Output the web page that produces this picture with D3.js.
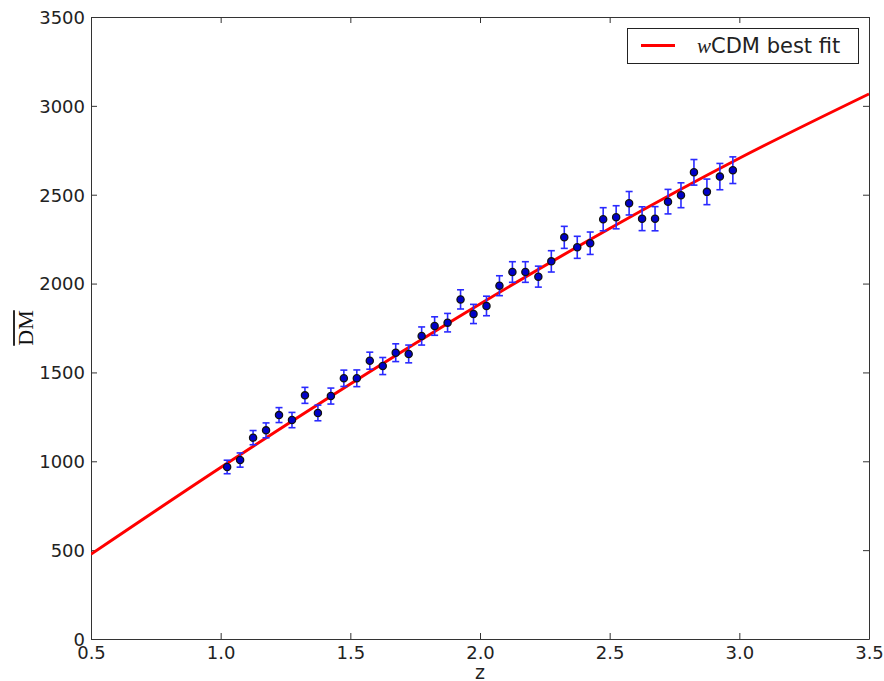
<!DOCTYPE html>
<html>
<head>
<meta charset="utf-8">
<script src="https://cdn.jsdelivr.net/npm/d3@7"></script>
<style>
  body { margin: 0; background: #fff; }
  svg { display: block; }
  .axis text { font-family: "DejaVu Sans", sans-serif; font-size: 18px; fill: #222; }
  .axis path, .axis line { stroke: #333; }
</style>
</head>
<body>
<script>
// measured redshift bins
var zVals = [1.025, 1.075, 1.125, 1.175, 1.225, 1.275, 1.325, 1.375, 1.425, 1.475,
  1.525, 1.575, 1.625, 1.675, 1.725, 1.775, 1.825, 1.875, 1.925, 1.975,
  2.025, 2.075, 2.125, 2.175, 2.225, 2.275, 2.325, 2.375, 2.425, 2.475,
  2.525, 2.575, 2.625, 2.675, 2.725, 2.775, 2.825, 2.875, 2.925, 2.975];
var dmVals = [968, 1007, 1133, 1174, 1260, 1232, 1371, 1272, 1367, 1467,
  1467, 1566, 1536, 1611, 1604, 1705, 1761, 1780, 1911, 1829,
  1874, 1988, 2065, 2065, 2039, 2125, 2260, 2204, 2227, 2362,
  2373, 2452, 2365, 2365, 2461, 2497, 2626, 2516, 2602, 2638];
var dmErr = [38, 40, 40, 42, 42, 43, 45, 44, 45, 46,
  47, 48, 48, 50, 50, 51, 52, 52, 54, 54,
  55, 56, 58, 58, 59, 60, 62, 62, 63, 65,
  65, 66, 67, 68, 69, 70, 72, 72, 74, 75];

// wCDM best fit curve
var fitZ = [0.5, 1.0, 1.5, 2.0, 2.5, 3.0, 3.5];
var fitDM = [477, 965, 1435, 1885, 2310, 2705, 3067];

var xTicks = [0.5, 1.0, 1.5, 2.0, 2.5, 3.0, 3.5];
var yTicks = [0, 500, 1000, 1500, 2000, 2500, 3000, 3500];

var width = 884, height = 681;
var margin = {top: 17, right: 15, bottom: 42, left: 91};
var w = width - margin.left - margin.right,
  h = height - margin.top - margin.bottom;

var svg = d3.select("body").append("svg")
  .attr("width", width)
  .attr("height", height);

var g = svg.append("g")
  .attr("transform", "translate(" + margin.left + "," + margin.top + ")");

var x = d3.scaleLinear().domain([0.5, 3.5]).range([0, w]);
var y = d3.scaleLinear().domain([0, 3500]).range([h, 0]);

// axes, ticks pointing inward like old matplotlib
var xAxisG = g.append("g").attr("class", "axis")
  .attr("transform", "translate(0," + h + ")")
  .call(d3.axisBottom(x).tickValues(xTicks).tickFormat(d3.format(".1f"))
    .tickSizeInner(-6).tickSizeOuter(0).tickPadding(7));
var yAxisG = g.append("g").attr("class", "axis")
  .call(d3.axisLeft(y).tickValues(yTicks).tickFormat(d3.format("d"))
    .tickSizeInner(-6).tickSizeOuter(0).tickPadding(6));
g.append("g").attr("class", "axis")
  .call(d3.axisTop(x).tickValues(xTicks).tickFormat("")
    .tickSizeInner(-6).tickSizeOuter(0));
g.append("g").attr("class", "axis")
  .attr("transform", "translate(" + w + ",0)")
  .call(d3.axisRight(y).tickValues(yTicks).tickFormat("")
    .tickSizeInner(-6).tickSizeOuter(0));
xAxisG.selectAll("text").attr("dy", "0.71em");
yAxisG.selectAll("text").attr("dy", "0.35em");

// clip
g.append("clipPath").attr("id", "clip")
  .append("rect").attr("width", w).attr("height", h);

var line = d3.line()
  .x(function (d, i) { return x(fitZ[i]); })
  .y(function (d) { return y(d); })
  .curve(d3.curveMonotoneX);

g.append("path")
  .datum(fitDM)
  .attr("clip-path", "url(#clip)")
  .attr("d", line)
  .attr("fill", "none")
  .attr("stroke", "#ff0000")
  .attr("stroke-width", 3);

var pts = zVals.map(function (z, i) { return {z: z, dm: dmVals[i], e: dmErr[i]}; });

var eb = g.selectAll(".err").data(pts).enter().append("g").attr("class", "err")
  .attr("stroke", "#2a2aff").attr("stroke-width", 1.6);
eb.append("line")
  .attr("x1", function (d) { return x(d.z); }).attr("x2", function (d) { return x(d.z); })
  .attr("y1", function (d) { return y(d.dm - d.e); }).attr("y2", function (d) { return y(d.dm + d.e); });
eb.append("line")
  .attr("x1", function (d) { return x(d.z) - 3.5; }).attr("x2", function (d) { return x(d.z) + 3.5; })
  .attr("y1", function (d) { return y(d.dm + d.e); }).attr("y2", function (d) { return y(d.dm + d.e); });
eb.append("line")
  .attr("x1", function (d) { return x(d.z) - 3.5; }).attr("x2", function (d) { return x(d.z) + 3.5; })
  .attr("y1", function (d) { return y(d.dm - d.e); }).attr("y2", function (d) { return y(d.dm - d.e); });

g.selectAll(".pt").data(pts).enter().append("circle")
  .attr("class", "pt")
  .attr("cx", function (d) { return x(d.z); })
  .attr("cy", function (d) { return y(d.dm); })
  .attr("r", 3.6)
  .attr("fill", "#0000c8")
  .attr("stroke", "#111")
  .attr("stroke-width", 1.3);

// axis labels
svg.append("text")
  .attr("x", margin.left + w / 2)
  .attr("y", 679)
  .attr("text-anchor", "middle")
  .style("font-family", "DejaVu Sans, sans-serif")
  .style("font-size", "19px")
  .style("fill", "#222")
  .text("z");

var yl = svg.append("g").attr("transform", "translate(33,328) rotate(-90)");
var ylt = yl.append("text")
  .attr("text-anchor", "middle")
  .style("font-family", "Liberation Serif, serif")
  .style("font-size", "22px")
  .style("fill", "#111")
  .text("DM");
var tw = ylt.node().getComputedTextLength();
yl.append("line")
  .attr("x1", -tw / 2).attr("x2", tw / 2)
  .attr("y1", -19).attr("y2", -19)
  .attr("stroke", "#111").attr("stroke-width", 1.8);

// legend
var lg = svg.append("g");
lg.append("rect")
  .attr("x", 627.5).attr("y", 28.5).attr("width", 231).attr("height", 35)
  .attr("fill", "#fff").attr("stroke", "#222").attr("stroke-width", 1);
lg.append("line")
  .attr("x1", 641).attr("x2", 675).attr("y1", 45.5).attr("y2", 45.5)
  .attr("stroke", "#ff0000").attr("stroke-width", 3);
var lt = lg.append("text")
  .attr("x", 697).attr("y", 53)
  .style("font-family", "DejaVu Sans, sans-serif")
  .style("font-size", "21px")
  .style("fill", "#222");
lt.append("tspan")
  .style("font-family", "Liberation Serif, serif")
  .style("font-style", "italic")
  .text("w");
lt.append("tspan").text("CDM best fit");
</script>
</body>
</html>
